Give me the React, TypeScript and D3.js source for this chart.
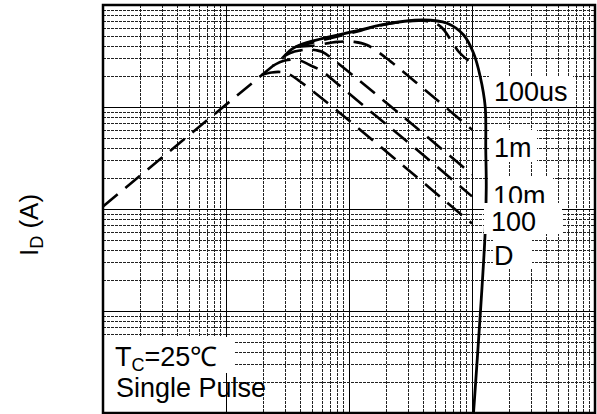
import React from 'react';
import * as d3 from 'd3';

// SOA curves (V in volts, I in amps)
const rdsV = [0.1, 2.9];
const rdsI = [1.06, 30.5];

const dcV = [1.95, 2.35, 2.8, 3.3, 4.0, 8, 28.7, 100];
const dcI = [20.6, 21.8, 22.0, 20.8, 17.8, 9.2, 2.55, 0.72];

const ms100V = [2.4, 3.0, 3.8, 4.8, 6, 8, 14.4, 28.7, 100];
const ms100I = [25.3, 28.5, 29, 25.8, 22.5, 17, 9.4, 4.75, 1.33];

const ms10V = [3.0, 3.6, 4.5, 5.4, 6.1, 8, 28.7, 100];
const ms10I = [31.7, 35, 36.5, 36, 34.6, 27.2, 7.7, 2.18];

const ms1V = [3.7, 5, 8, 11, 14, 22, 34.7, 52, 100];
const ms1I = [39, 39.8, 43.5, 43.5, 40.5, 27.7, 17.6, 11.7, 6.0];

const us100V = [3.7, 12.4, 17.9, 40, 55, 70, 78, 100];
const us100I = [39, 56, 63, 70, 62, 42, 34.8, 26.5];

const solidV = [2.9, 3.7, 12.4, 17.9, 40.4, 62.7, 85.5, 103, 116.7, 128, 129.4, 130.6, 128, 103];
const solidI = [30.5, 39, 56.9, 63.6, 71.3, 66.2, 50.8, 33.6, 19.8, 10.1, 3.79, 1.64, 0.596, 0.0102];

const curveLabels = ['100us', '1m', '10m', '100', 'D'];

const W = 597;
const H = 414;
const left = 103, right = 595, top = 5, bottom = 413;
const font = '"Liberation Sans", Arial, sans-serif';

// label boxes [x, y, w, h] and text [x, baseline]
const labelBoxes = [
  [489, 76, 84, 31],
  [489, 130, 48, 32],
  [488, 176, 65, 27],
  [484, 203, 78, 31],
  [493, 234, 39, 34],
];
const labelPos = [
  [494, 101],
  [494, 157],
  [493, 205],
  [491, 231],
  [494, 265],
];

const zip = (v: number[], i: number[]) => v.map((d, k) => [d, i[k]] as [number, number]);

export default function App() {
  const x = d3.scaleLog().domain([0.1, 1000]).range([left, right]);
  const y = d3.scaleLog().domain([0.01, 100]).range([bottom, top]);

  const line = d3
    .line<[number, number]>()
    .x((d) => x(d[0]))
    .y((d) => y(d[1]))
    .curve(d3.curveCatmullRom.alpha(0.5));

  const xt = x.ticks();
  const yt = y.ticks();
  const isMajor = (v: number) => Math.abs(Math.log10(v) - Math.round(Math.log10(v))) < 1e-6;
  const px = (v: number) => Math.round(v) + 0.5;

  const dashed = [
    zip(rdsV, rdsI),
    zip(dcV, dcI),
    zip(ms100V, ms100I),
    zip(ms10V, ms10I),
    zip(ms1V, ms1I),
    zip(us100V, us100I),
  ];

  return (
    <svg width={W} height={H} style={{ position: 'absolute', left: 0, top: 0, background: '#fff' }}>
      <defs>
        <clipPath id="plot">
          <rect x={left} y={top} width={right - left} height={bottom - top} />
        </clipPath>
      </defs>
      <rect width={W} height={H} fill="#fff" />

      {/* grid */}
      <g shapeRendering="crispEdges">
        {xt.filter((v) => v > 0.1 && v < 1000).map((v, k) => (
          <line key={'x' + k} x1={px(x(v))} x2={px(x(v))} y1={top} y2={bottom}
            stroke={isMajor(v) ? '#000' : '#222'} strokeWidth={1}
            strokeDasharray={isMajor(v) ? undefined : '3,1'} />
        ))}
        {yt.filter((v) => v > 0.01 && v < 100).map((v, k) => (
          <line key={'y' + k} y1={px(y(v))} y2={px(y(v))} x1={left} x2={right}
            stroke={isMajor(v) ? '#000' : '#222'} strokeWidth={1}
            strokeDasharray={isMajor(v) ? undefined : '3,1'} />
        ))}
      </g>

      {/* curves */}
      <g clipPath="url(#plot)" fill="none" stroke="#000">
        {dashed.map((d, k) => (
          <path key={k} d={line(d) || ''} strokeWidth={2.6} strokeDasharray="19,10" />
        ))}
        <path d={line(zip(solidV, solidI)) || ''} strokeWidth={2.8} />
      </g>

      {/* curve labels */}
      {curveLabels.map((t, k) => (
        <g key={t}>
          <rect x={labelBoxes[k][0]} y={labelBoxes[k][1]} width={labelBoxes[k][2]} height={labelBoxes[k][3]} fill="#fff" />
          <text x={labelPos[k][0]} y={labelPos[k][1]} fontFamily={font} fontSize={27} fill="#000">{t}</text>
        </g>
      ))}

      {/* conditions */}
      <rect x={104} y={337} width={131} height={36} fill="#fff" />
      <rect x={104} y={373} width={119} height={39} fill="#fff" />
      <text x={115} y={366} fontFamily={font} fontSize={27} fill="#000">
        T<tspan fontSize={18} dy={5}>C</tspan><tspan dy={-5}>=25℃</tspan>
      </text>
      <text x={116} y={397} fontFamily={font} fontSize={27} fill="#000">Single Pulse</text>

      {/* frame */}
      <rect x={left} y={top} width={right - left} height={bottom - top} fill="none" stroke="#000" strokeWidth={2.5} />

      {/* y axis title */}
      <text transform="translate(38,225) rotate(-90)" textAnchor="middle" fontFamily={font} fontSize={26} fill="#000">
        I<tspan fontSize={18} dy={5}>D</tspan><tspan dy={-5}> (A)</tspan>
      </text>
    </svg>
  );
}
